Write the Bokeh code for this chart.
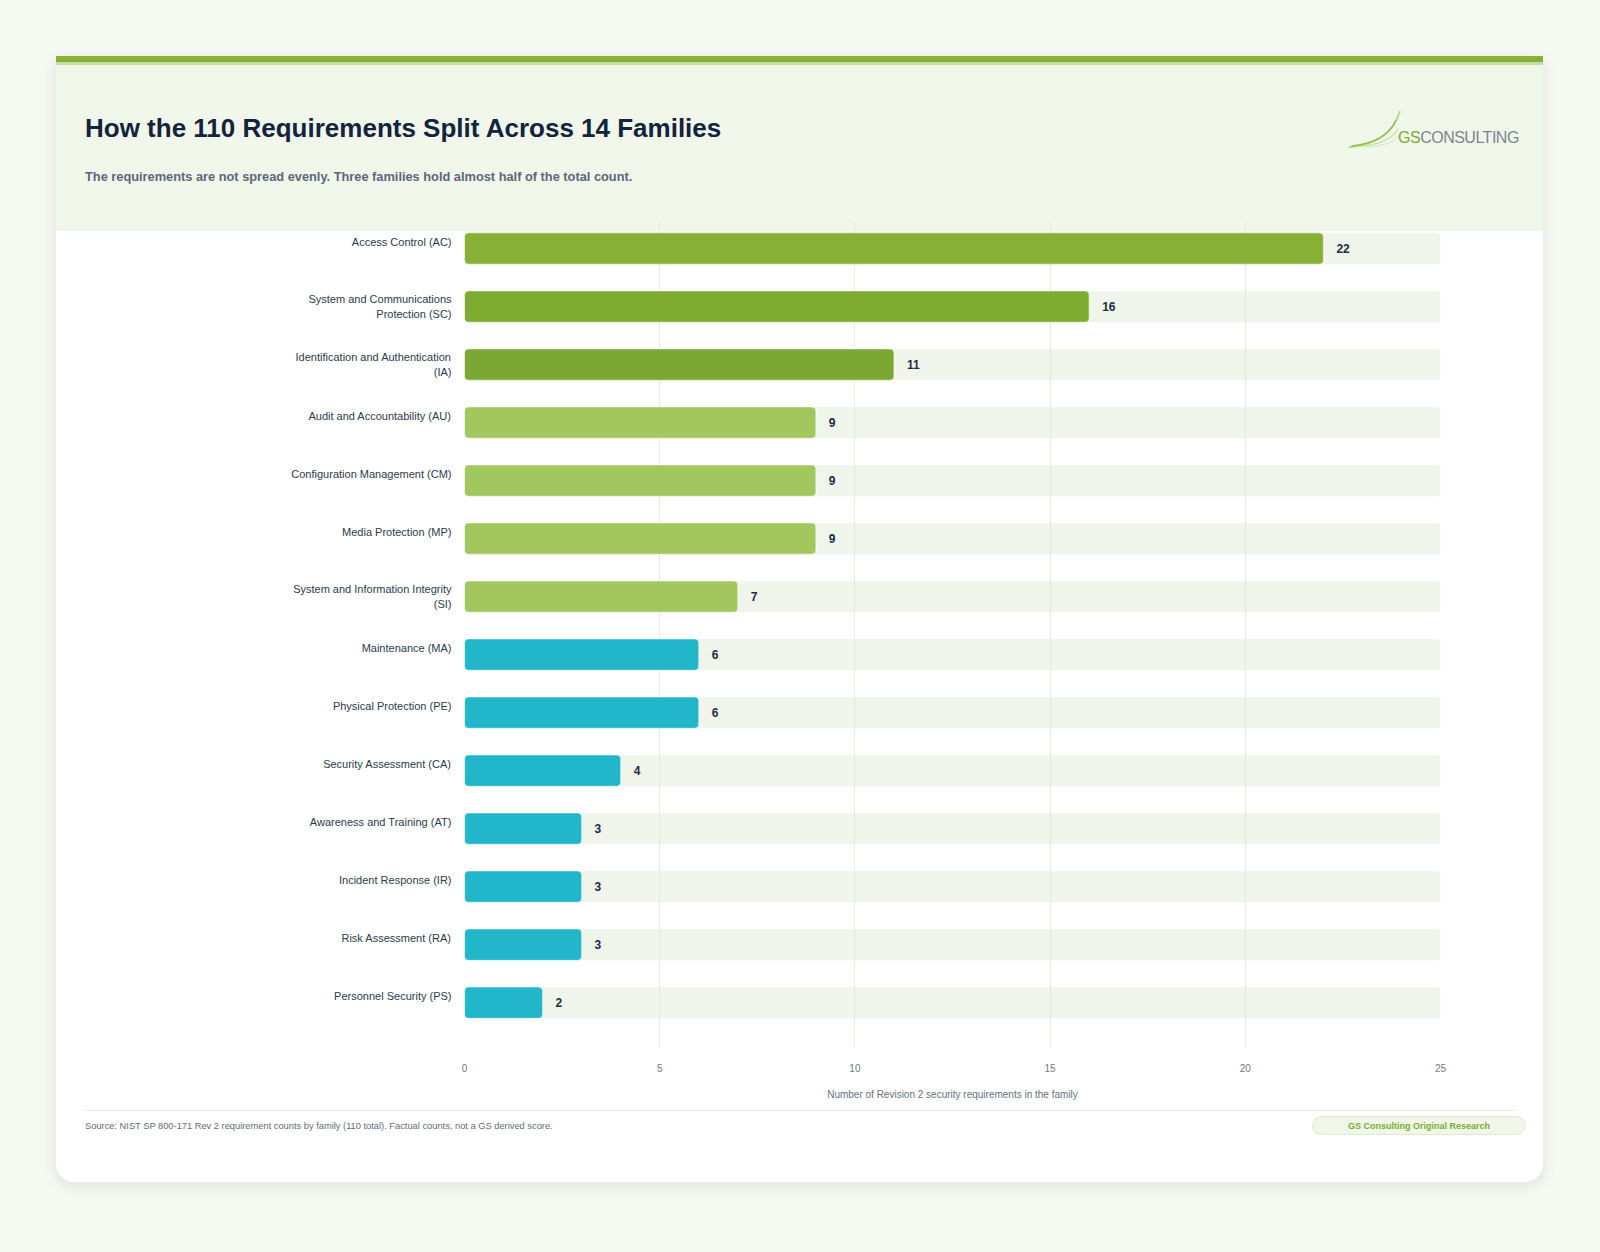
from bokeh.plotting import figure
from bokeh.layouts import column
from bokeh.models import Div, Range1d, FixedTicker, CustomJSTickFormatter, ColumnDataSource
from bokeh.core.properties import value
from bokeh.embed import file_html
from bokeh.resources import INLINE

# ---------------------------------------------------------------- data
family_labels = [
    "Access Control (AC)",
    "System and Communications\nProtection (SC)",
    "Identification and Authentication\n(IA)",
    "Audit and Accountability (AU)",
    "Configuration Management (CM)",
    "Media Protection (MP)",
    "System and Information Integrity\n(SI)",
    "Maintenance (MA)",
    "Physical Protection (PE)",
    "Security Assessment (CA)",
    "Awareness and Training (AT)",
    "Incident Response (IR)",
    "Risk Assessment (RA)",
    "Personnel Security (PS)",
]
requirement_counts = [22, 16, 11, 9, 9, 9, 7, 6, 6, 4, 3, 3, 3, 2]
size_tier = ["top", "top", "top", "mid", "mid", "mid", "mid",
             "small", "small", "small", "small", "small", "small", "small"]
x_ticks = [0, 5, 10, 15, 20, 25]

TITLE = "How the 110 Requirements Split Across 14 Families"
SUBTITLE = ("The requirements are not spread evenly. Three families hold almost "
            "half of the total count.")
X_LABEL = "Number of Revision 2 security requirements in the family"
SOURCE = ("Source: NIST SP 800-171 Rev 2 requirement counts by family (110 total). "
          "Factual counts, not a GS derived score.")
BADGE = "GS Consulting Original Research"

# ---------------------------------------------------------------- styling
FONT = "Liberation Sans"
PAGE_BG = "#f6f8f2"
HEADER_BG = "#f1f6eb"
TRACK = "#f0f5ec"
GRID = "#e4ebdc"
NAVY = "#14233d"
TOP_SHADES = ["#86b136", "#7eac31", "#7aa832"]
TIER_COLOR = {"mid": "#a3c75f", "small": "#21b6c9"}

CARD_W = 1487
HEADER_H = 175
FIG_H = 893
FOOTER_H = 78
BAR_H = 0.54
LINE_SHIFT = 0.11  # half a text line, in row units

rows = list(range(len(family_labels)))
top_i = 0
bar_colors = []
for t in size_tier:
    if t == "top":
        bar_colors.append(TOP_SHADES[top_i])
        top_i += 1
    else:
        bar_colors.append(TIER_COLOR[t])

src = ColumnDataSource(dict(
    row=rows,
    count=requirement_counts,
    label=[str(c) for c in requirement_counts],
    color=bar_colors,
    full=[x_ticks[-1]] * len(rows),
))

# ---------------------------------------------------------------- chart
p = figure(
    width=CARD_W, height=FIG_H,
    x_range=Range1d(x_ticks[0], x_ticks[-1]),
    y_range=Range1d(len(rows) - 0.21, -0.466),
    output_backend="svg", toolbar_location=None,
    min_border_left=408, min_border_right=103,
    min_border_top=10, min_border_bottom=56,
    background_fill_color=None, border_fill_color=None,
    outline_line_color=None,
    margin=(-20, 0, 0, 0),
)

# full-length tracks sit beneath the grid
p.hbar(y="row", left=0, right="full", height=BAR_H, source=src,
       fill_color=TRACK, line_color=None, border_radius=3, level="image")

p.hbar(y="row", left=0, right="count", height=BAR_H, source=src,
       fill_color="color", line_color="#ffffff", line_alpha=0.55, line_width=1,
       border_radius=4)

p.text(x="count", y="row", text="label", source=src,
       x_offset=13, text_align="left", text_baseline="middle",
       text_font=value(FONT), text_font_size="12px", text_font_style="bold",
       text_color="#1d2b44")

# x axis
p.xaxis.ticker = FixedTicker(ticks=x_ticks)
p.xaxis.axis_label = X_LABEL
p.xaxis.axis_line_color = None
p.xaxis.major_tick_line_color = None
p.xaxis.minor_tick_line_color = None
p.xaxis.major_label_standoff = 9
p.xaxis.major_label_text_font = FONT
p.xaxis.major_label_text_font_size = "10px"
p.xaxis.major_label_text_color = "#6f7a86"
p.xaxis.axis_label_standoff = 14
p.xaxis.axis_label_text_font = FONT
p.xaxis.axis_label_text_font_size = "10px"
p.xaxis.axis_label_text_font_style = "normal"
p.xaxis.axis_label_text_color = "#66717e"

p.xgrid.ticker = FixedTicker(ticks=x_ticks)
p.xgrid.grid_line_color = GRID
p.xgrid.grid_line_width = 1
p.ygrid.grid_line_color = None

# y axis: family names, top-aligned with each bar
label_pos = [r - LINE_SHIFT * (2 - lab.count("\n") - 1) for r, lab in zip(rows, family_labels)]
p.yaxis.ticker = FixedTicker(ticks=label_pos)
p.yaxis.formatter = CustomJSTickFormatter(
    args=dict(labels=family_labels, pos=label_pos),
    code="return labels[pos.indexOf(tick)]",
)
p.yaxis.axis_line_color = None
p.yaxis.major_tick_line_color = None
p.yaxis.minor_tick_line_color = None
p.yaxis.major_label_standoff = 7
p.yaxis.major_label_text_font = FONT
p.yaxis.major_label_text_font_size = "11px"
p.yaxis.major_label_text_color = "#2b3a4e"
p.yaxis.major_label_text_line_height = 1.3

# ---------------------------------------------------------------- header
swoosh = (
    '<svg style="position:absolute;left:1287px;top:50px" width="62" height="48" '
    'viewBox="0 0 62 48">'
    '<path d="M6,41 Q47,38 57,5" fill="none" stroke="#b4d67f" stroke-width="1.8"/>'
    '<path d="M9,40 Q44,36 53,14" fill="none" stroke="#8fc049" stroke-width="1.5"/>'
    '<path d="M15,40.5 Q46,38.5 55,23" fill="none" stroke="#c5df9b" stroke-width="1.3"/>'
    '<path d="M22,41 Q48,40 56,30" fill="none" stroke="#d6e8b8" stroke-width="1"/>'
    '</svg>'
)
header_html = f"""
<div style="position:relative;width:{CARD_W}px;height:{HEADER_H}px;background:{HEADER_BG};
font-family:'{FONT}',Arial,sans-serif;">
  <div style="position:absolute;left:0;top:0;width:{CARD_W}px;height:6px;background:#86b138"></div>
  <div style="position:absolute;left:0;top:6px;width:{CARD_W}px;height:3px;background:#c6dca2"></div>
  <div style="position:absolute;left:29px;top:59px;font-size:26px;line-height:26px;
  font-weight:700;color:{NAVY};white-space:nowrap">{TITLE}</div>
  <div style="position:absolute;left:29px;top:115px;font-size:12.8px;line-height:12.8px;
  font-weight:700;color:#5b6878;white-space:nowrap">{SUBTITLE}</div>
  {swoosh}
  <div style="position:absolute;left:1342px;top:74px;font-size:16px;line-height:16px;
  letter-spacing:-0.5px;white-space:nowrap"><span style="color:#7aab2f">GS</span><span
  style="color:#7d8591">CONSULTING</span></div>
</div>
"""
header = Div(text=header_html, width=CARD_W, height=HEADER_H, margin=0)

# ---------------------------------------------------------------- footer
footer_html = f"""
<div style="position:relative;width:{CARD_W}px;height:{FOOTER_H}px;
font-family:'{FONT}',Arial,sans-serif;">
  <div style="position:absolute;left:29px;top:6px;width:1430px;height:1px;background:#e2ebd8"></div>
  <div style="position:absolute;left:29px;top:17.5px;font-size:9.3px;line-height:9.3px;
  color:#5f6b78;white-space:nowrap">{SOURCE}</div>
  <div style="position:absolute;left:1256px;top:12px;width:214px;height:19px;
  background:{HEADER_BG};border:1px solid #dfe9d4;border-radius:11px;
  font-size:9px;line-height:19px;font-weight:700;color:#7aab2f;text-align:center">{BADGE}</div>
</div>
"""
footer = Div(text=footer_html, width=CARD_W, height=FOOTER_H, margin=0)

card = column(
    header, p, footer,
    width=CARD_W,
    margin=(56, 0, 0, 56),
    styles={
        "background-color": "#ffffff",
        "border-radius": "0 0 18px 18px",
        "box-shadow": "0 4px 14px rgba(70, 90, 60, 0.13)",
        "overflow": "hidden",
    },
)

page = column(card, width=1600, height=1252, margin=0,
              styles={"background-color": PAGE_BG})

open("out.html", "w").write(file_html(page, INLINE, title="Requirements by family"))
